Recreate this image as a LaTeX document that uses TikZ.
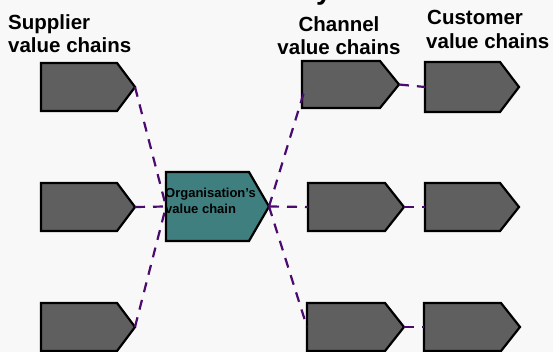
\documentclass[tikz,border=0pt]{standalone}
\usepackage{fontspec}
\setmainfont{Liberation Sans}
\definecolor{pagebg}{HTML}{F8F8F8}
\definecolor{chaingray}{HTML}{5F5F5F}
\definecolor{orgteal}{HTML}{3F7F7F}
\definecolor{linkpurple}{HTML}{4A0A6E}

% value-chain arrow: name, left x, top y, width to tip, height, tip depth, fill
\newcommand\vchain[7]{%
  \draw[chainbox, fill=#7] (#2,#3) -- (#2+#4-#6,#3) -- (#2+#4,#3+#5/2)
    -- (#2+#4-#6,#3+#5) -- (#2,#3+#5) -- cycle;
  \coordinate (#1-w) at (#2,#3+#5/2);
  \coordinate (#1-e) at (#2+#4,#3+#5/2);
}

\begin{document}
\begin{tikzpicture}[x=1pt, y=-1pt,
  chainbox/.style={draw=black, line width=2.2pt},
  link/.style={draw=linkpurple, line width=2.2pt, dash pattern=on 10pt off 8pt},
  headtext/.style={font=\bfseries\fontsize{20.5}{24}\selectfont, inner sep=0pt},
  orgtext/.style={font=\bfseries\fontsize{13}{16}\selectfont, inner sep=0pt, anchor=base west}]
\useasboundingbox (0,0) rectangle (553,352);
\fill[pagebg] (0,0) rectangle (553,352);
\clip (0,0) rectangle (553,352);

% cut-off title letter at the top edge
\node[font=\bfseries\fontsize{28}{30}\selectfont, inner sep=0pt, anchor=base west] (titletail) at (316,-0.5) {y};

% column headings
\node[headtext, anchor=base west] (sup1) at (8,30) {Supplier};
\node[headtext, anchor=base west] (sup2) at (8,53) {value chains};
\node[headtext, anchor=base] (chn1) at (339,32) {Channel};
\node[headtext, anchor=base] (chn2) at (339,55) {value chains};
\node[headtext, anchor=base west] (cus1) at (427,25) {Customer};
\node[headtext, anchor=base west] (cus2) at (426,49) {value chains};

% supplier chains
\vchain{s1}{41}{63}{94}{48}{18}{chaingray}
\vchain{s2}{41}{183}{94}{48}{18}{chaingray}
\vchain{s3}{41}{303}{94}{48}{18}{chaingray}

% organisation
\vchain{org}{166}{172}{103}{69}{20}{orgteal}
\node[orgtext] (orgtxt1) at (165,198) {Organisation\symbol{39}s};
\node[orgtext] (orgtxt2) at (165,214) {value chain};

% channel chains
\vchain{c1}{302}{61}{97}{47}{19}{chaingray}
\vchain{c2}{308}{183}{96}{48}{19}{chaingray}
\vchain{c3}{307}{303}{97}{48}{19}{chaingray}

% customer chains
\vchain{k1}{425}{62}{94}{50}{19}{chaingray}
\vchain{k2}{425}{183}{94}{48}{19}{chaingray}
\vchain{k3}{424}{303}{96}{48}{19}{chaingray}

\coordinate (c1-in) at (304,92);

% links
\draw[link] (s1-e) -- (org-w);
\draw[link] (s2-e) -- (org-w);
\draw[link] (s3-e) -- (org-w);
\draw[link] (org-e) -- (c1-in);
\draw[link] (org-e) -- (c2-w);
\draw[link] (org-e) -- (c3-w);
\draw[link] (c1-e) -- (k1-w);
\draw[link] (c2-e) -- (k2-w);
\draw[link] (c3-e) -- (k3-w);
\end{tikzpicture}
\end{document}
